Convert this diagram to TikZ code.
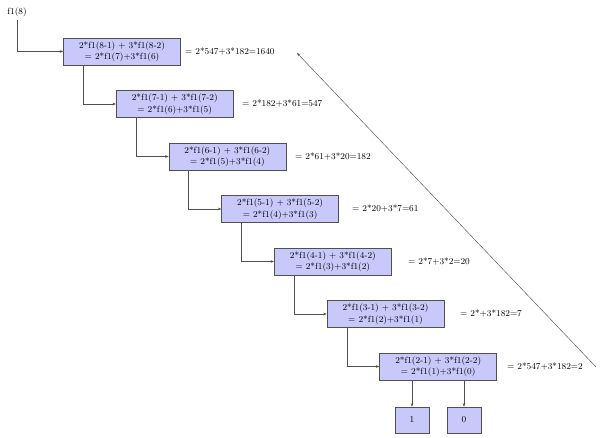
\documentclass[tikz,border=0pt]{standalone}
\usetikzlibrary{arrows.meta}
\definecolor{boxfill}{RGB}{200,200,250}
\definecolor{edge}{RGB}{80,80,80}
\begin{document}
\begin{tikzpicture}[x=1pt,y=-1pt,
  font=\fontsize{9}{11.5}\selectfont,
  calcbox/.style={draw=edge, fill=boxfill, line width=0.5pt, minimum width=117pt,
    minimum height=27pt, align=center, inner sep=1pt},
  leaf/.style={draw=edge, fill=boxfill, line width=0.5pt, minimum width=34pt, minimum height=26pt},
  result/.style={anchor=west, inner sep=0pt},
  link/.style={draw=edge, line width=0.45pt, -{Stealth[length=3.5pt,width=2.6pt]}}]
\useasboundingbox (0,0) rectangle (600,438);

% starting call
\node (start) at (17,12) {f1(8)};

% one box per recursion level
\node[calcbox] (b1) at (122,51.5)   {2*f1(8-1) + 3*f1(8-2)\\= 2*f1(7)+3*f1(6)};
\node[calcbox] (b2) at (174.7,104)  {2*f1(7-1) + 3*f1(7-2)\\= 2*f1(6)+3*f1(5)};
\node[calcbox] (b3) at (227.4,156.5){2*f1(6-1) + 3*f1(6-2)\\= 2*f1(5)+3*f1(4)};
\node[calcbox] (b4) at (280.1,209)  {2*f1(5-1) + 3*f1(5-2)\\= 2*f1(4)+3*f1(3)};
\node[calcbox] (b5) at (332.8,261.5){2*f1(4-1) + 3*f1(4-2)\\= 2*f1(3)+3*f1(2)};
\node[calcbox] (b6) at (385.5,314)  {2*f1(3-1) + 3*f1(3-2)\\= 2*f1(2)+3*f1(1)};
\node[calcbox] (b7) at (438.2,366.5){2*f1(2-1) + 3*f1(2-2)\\= 2*f1(1)+3*f1(0)};

% base cases
\node[leaf] (one)  at (412,420) {1};
\node[leaf] (zero) at (464,420) {0};

% evaluated results
\node[result] (r1) at (185,51.5)  {= 2*547+3*182=1640};
\node[result] (r2) at (242,104)   {= 2*182+3*61=547};
\node[result] (r3) at (295,156.5) {= 2*61+3*20=182};
\node[result] (r4) at (352,209)   {= 2*20+3*7=61};
\node[result] (r5) at (408,261.5) {= 2*7+3*2=20};
\node[result] (r6) at (460,314)   {= 2*+3*182=7};
\node[result] (r7) at (507,366.5) {= 2*547+3*182=2};

% call chain
\draw[link] (start) |- (b1.west);
\draw[link] ([xshift=20pt]b1.south west) |- (b2.west);
\draw[link] ([xshift=20pt]b2.south west) |- (b3.west);
\draw[link] ([xshift=20pt]b3.south west) |- (b4.west);
\draw[link] ([xshift=20pt]b4.south west) |- (b5.west);
\draw[link] ([xshift=20pt]b5.south west) |- (b6.west);
\draw[link] ([xshift=20pt]b6.south west) |- (b7.west);
\draw[link] (b7.south -| one) -- (one);
\draw[link] (b7.south -| zero) -- (zero);

% return path
\coordinate (retfrom) at (596,367);
\coordinate (retto) at (297,53);
\draw[link] (retfrom) -- (retto);
\end{tikzpicture}
\end{document}
